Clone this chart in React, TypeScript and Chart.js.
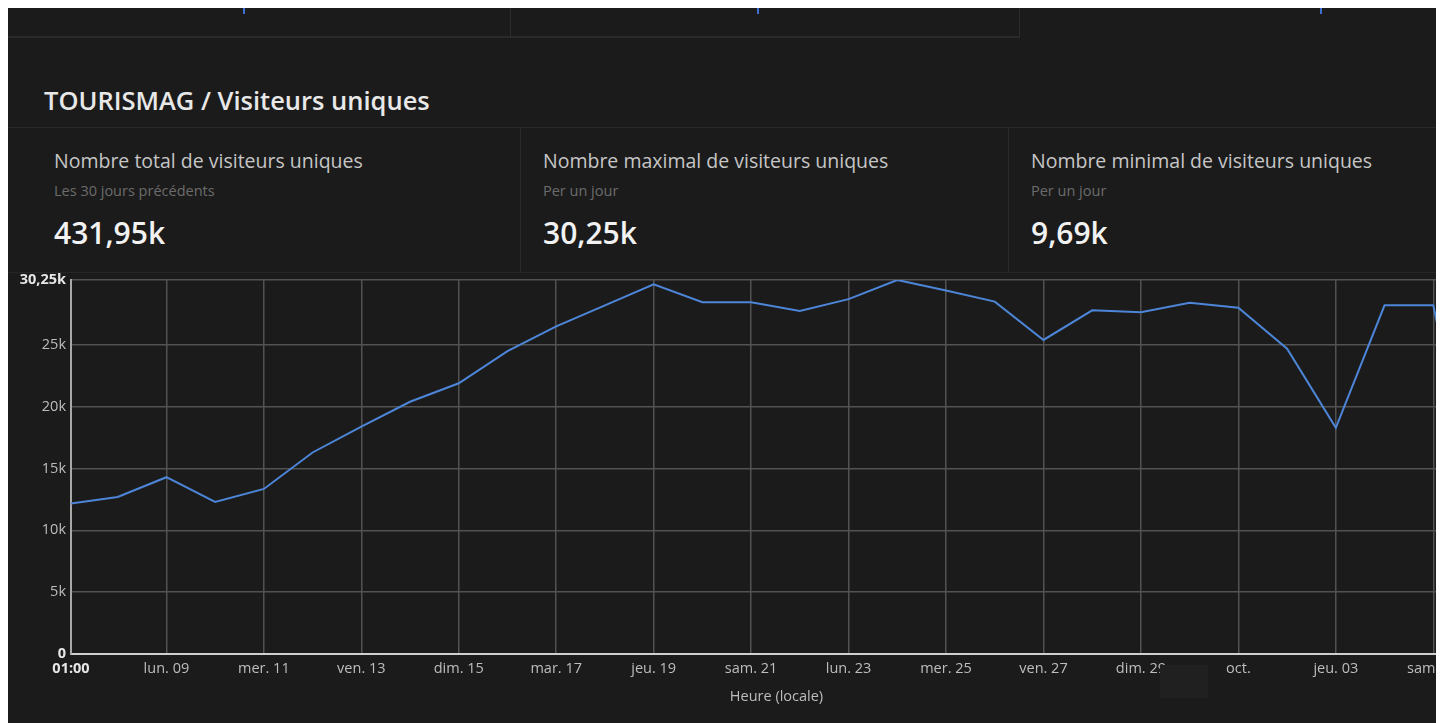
import React, { useEffect, useRef } from "react";
import { Chart, registerables } from "chart.js";

Chart.register(...registerables);

// ---- data ----
const dayIndex = [0, 1, 2, 3, 4, 5, 6, 7, 8, 9, 10, 11, 12, 13, 14, 15, 16, 17, 18, 19, 20, 21, 22, 23, 24, 25, 26, 27, 28, 29];
const visitors = [
  12150, 12700, 14300, 12300, 13350, 16300, 18400, 20400, 21900, 24500,
  26500, 28200, 29900, 28450, 28450, 27750, 28700, 30250, 29400, 28500,
  25400, 27800, 27650, 28400, 28000, 24700, 18300, 28200, 28200, 9690,
];
const xTickValues = [1 / 24, 2, 4, 6, 8, 10, 12, 14, 16, 18, 20, 22, 24, 26, 28];
const xTickLabels = [
  "01:00", "lun. 09", "mer. 11", "ven. 13", "dim. 15", "mar. 17", "jeu. 19",
  "sam. 21", "lun. 23", "mer. 25", "ven. 27", "dim. 29", "oct.", "jeu. 03", "sam. 05",
];
const yTickValues = [0, 5000, 10000, 15000, 20000, 25000, 30250];
const yTickLabels = ["0", "5k", "10k", "15k", "20k", "25k", "30,25k"];

const pageTitle = "TOURISMAG / Visiteurs uniques";
const cardTitles = [
  "Nombre total de visiteurs uniques",
  "Nombre maximal de visiteurs uniques",
  "Nombre minimal de visiteurs uniques",
];
const cardSubtitles = ["Les 30 jours précédents", "Per un jour", "Per un jour"];
const cardValues = ["431,95k", "30,25k", "9,69k"];
const xAxisTitle = "Heure (locale)";

const FONT = "'Open Sans', 'Noto Sans', sans-serif";
const TICK_SIZE = 14.5;

function LineChart() {
  const ref = useRef<HTMLCanvasElement | null>(null);
  useEffect(() => {
    if (!ref.current) return;
    const chart = new Chart(ref.current, {
      type: "line",
      data: {
        datasets: [
          {
            data: dayIndex.map((d, i) => ({ x: d, y: visitors[i] })),
            borderColor: "#4d86d8",
            borderWidth: 2,
            pointRadius: 0,
            tension: 0,
            fill: false,
          },
        ],
      },
      options: {
        responsive: false,
        animation: false,
        layout: { padding: { top: 14, right: 0, bottom: 0, left: 0 } },
        plugins: { legend: { display: false }, tooltip: { enabled: false } },
        scales: {
          x: {
            type: "linear",
            min: 1 / 24,
            max: 29,
            afterBuildTicks: (s: any) => {
              s.ticks = xTickValues.map((v) => ({ value: v }));
            },
            afterFit: (s: any) => {
              s.height = 62;
            },
            grid: { color: "#525252", lineWidth: 1.5, drawTicks: false },
            border: { display: true, color: "#cfcfcf", width: 2 },
            ticks: {
              padding: 6,
              autoSkip: false,
              maxRotation: 0,
              callback: (_v: any, i: number) => xTickLabels[i],
              color: (ctx: any) => (ctx.index === 0 ? "#e6e6e6" : "#bdbdbd"),
              font: (ctx: any) => ({
                family: FONT,
                size: TICK_SIZE,
                weight: ctx.index === 0 ? "bold" : "normal",
              }),
            },
            title: {
              display: true,
              text: xAxisTitle,
              color: "#bdbdbd",
              font: { family: FONT, size: TICK_SIZE },
              padding: { top: 0, bottom: 10 },
            },
          },
          y: {
            min: 0,
            max: 30250,
            afterBuildTicks: (s: any) => {
              s.ticks = yTickValues.map((v) => ({ value: v }));
            },
            afterFit: (s: any) => {
              s.width = 63;
            },
            grid: { color: "#525252", lineWidth: 1.5, drawTicks: false },
            border: { display: true, color: "#a8a8a8", width: 2 },
            ticks: {
              padding: 5,
              callback: (_v: any, i: number) => yTickLabels[i],
              color: (ctx: any) =>
                ctx.index === 0 || ctx.index === yTickValues.length - 1 ? "#e6e6e6" : "#bdbdbd",
              font: (ctx: any) => ({
                family: FONT,
                size: TICK_SIZE,
                weight:
                  ctx.index === 0 || ctx.index === yTickValues.length - 1 ? "bold" : "normal",
              }),
            },
          },
        },
      },
    } as any);
    return () => chart.destroy();
  }, []);
  return (
    <canvas
      ref={ref}
      width={1474}
      height={450}
      style={{ width: 1474, height: 450, display: "block" }}
    />
  );
}

export default function App() {
  const cardLefts = [0, 512, 1000];
  const cardWidths = [512, 488, 428];
  return (
    <div
      style={{
        position: "relative",
        width: 1428,
        height: 715,
        background: "#1b1b1b",
        overflow: "hidden",
        fontFamily: FONT,
      }}
    >
      {/* top strip (previous row of cards) */}
      <div style={{ position: "absolute", left: 0, top: 0, width: 1011, height: 28, borderBottom: "2px solid #2a2a2a" }} />
      <div style={{ position: "absolute", left: 502, top: 0, width: 1, height: 30, background: "#2c2c2c" }} />
      <div style={{ position: "absolute", left: 1011, top: 0, width: 1, height: 30, background: "#2c2c2c" }} />
      {[235, 749, 1312].map((l) => (
        <div key={l} style={{ position: "absolute", left: l, top: 0, width: 2, height: 6, background: "#3b6fd4" }} />
      ))}

      {/* title */}
      <div
        style={{
          position: "absolute",
          left: 36,
          top: 76,
          fontSize: 25.5,
          lineHeight: "32px",
          fontWeight: 600,
          color: "#e8e8e8",
          whiteSpace: "nowrap",
        }}
      >
        {pageTitle}
      </div>
      <div style={{ position: "absolute", left: 0, top: 119, width: 1428, height: 1, background: "#2a2a2a" }} />

      {/* KPI cards */}
      {cardTitles.map((t, i) => (
        <div
          key={i}
          style={{
            position: "absolute",
            left: cardLefts[i],
            top: 120,
            width: cardWidths[i],
            height: 145,
            borderLeft: i > 0 ? "1px solid #2a2a2a" : "none",
            borderBottom: "1px solid #262626",
            boxSizing: "border-box",
          }}
        >
          <div
            style={{
              position: "absolute",
              left: i === 0 ? 46 : 22,
              top: 20,
              fontSize: 19.5,
              lineHeight: "26px",
              color: "#c6c6c6",
              whiteSpace: "nowrap",
            }}
          >
            {t}
          </div>
          <div
            style={{
              position: "absolute",
              left: i === 0 ? 46 : 22,
              top: 53,
              fontSize: 14.5,
              lineHeight: "20px",
              color: "#6c6c6c",
              whiteSpace: "nowrap",
            }}
          >
            {cardSubtitles[i]}
          </div>
          <div
            style={{
              position: "absolute",
              left: i === 0 ? 46 : 22,
              top: 86,
              fontSize: 30,
              lineHeight: "38px",
              fontWeight: 600,
              color: "#f2f2f2",
              whiteSpace: "nowrap",
            }}
          >
            {cardValues[i]}
          </div>
        </div>
      ))}

      {/* chart */}
      <div style={{ position: "absolute", left: 0, top: 258 }}>
        <LineChart />
      </div>

      {/* cover box over a tick label, as in the reference */}
      <div style={{ position: "absolute", left: 1152, top: 657, width: 48, height: 33, background: "#202020" }} />
    </div>
  );
}
